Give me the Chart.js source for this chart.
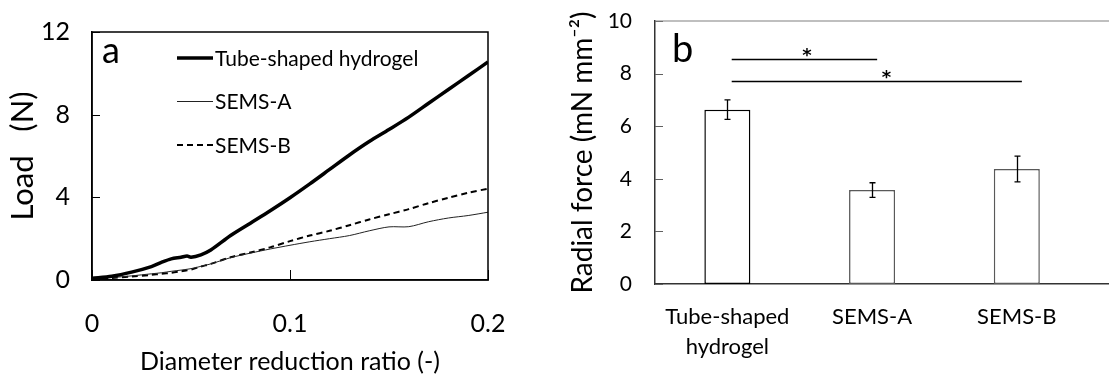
<!DOCTYPE html>
<html><head><meta charset="utf-8">
<script src="https://cdn.jsdelivr.net/npm/chart.js@4.4.1/dist/chart.umd.min.js"></script>
<style>
html,body{margin:0;padding:0;background:#fff;overflow:hidden}
#wrap{position:relative;width:1109px;height:379px}
canvas{position:absolute;top:0}
#a{left:0}
#b{left:560px}
</style></head><body>
<div id="wrap"><canvas id="a" width="560" height="379"></canvas><canvas id="b" width="549" height="379"></canvas></div>
<script>
// ---- Panel a data ----
const ratio = [0, 0.01, 0.02, 0.03, 0.035, 0.04, 0.045, 0.048, 0.05, 0.055, 0.06, 0.07, 0.08, 0.09, 0.1, 0.11, 0.12, 0.13, 0.14, 0.15, 0.16, 0.17, 0.18, 0.19, 0.2];
const loadHydrogel = [0.08, 0.18, 0.38, 0.65, 0.85, 1.02, 1.10, 1.16, 1.10, 1.22, 1.45, 2.15, 2.75, 3.35, 3.98, 4.65, 5.35, 6.05, 6.70, 7.28, 7.88, 8.55, 9.22, 9.88, 10.55];
const loadSemsA = [0.08, 0.12, 0.20, 0.30, 0.35, 0.42, 0.48, 0.52, 0.55, 0.66, 0.78, 1.08, 1.30, 1.50, 1.68, 1.85, 2.00, 2.15, 2.38, 2.57, 2.58, 2.82, 3.00, 3.12, 3.28];
const loadSemsB = [0.05, 0.10, 0.17, 0.25, 0.30, 0.35, 0.42, 0.47, 0.50, 0.65, 0.78, 1.10, 1.33, 1.58, 1.88, 2.15, 2.38, 2.65, 2.93, 3.18, 3.43, 3.72, 3.98, 4.22, 4.42];
const seriesNames = ['Tube-shaped hydrogel', 'SEMS-A', 'SEMS-B'];
const ratioTicks = [0, 0.1, 0.2];
const ratioTickLabels = ['0', '0.1', '0.2'];
const loadTicks = [0, 4, 8, 12];

// ---- Panel b data ----
const categories = [['Tube-shaped', 'hydrogel'], 'SEMS-A', 'SEMS-B'];
const radialForce = [6.63, 3.57, 4.37];
const radialErr = [0.37, 0.28, 0.49];
const forceTicks = [0, 2, 4, 6, 8, 10];
const sigStart = [0.03, 0.03];
const sigEnd = [1.035, 2.035];
const sigLevel = [8.57, 7.71];
const sigStarX = [0.55, 1.10];
const sigLabel = ['*', '*'];

Chart.defaults.font.family = 'Lato, "Open Sans", sans-serif';
Chart.defaults.color = '#000';

const pts = ys => ratio.map((x, i) => ({x, y: ys[i]}));
const noPad = s => { s.paddingTop = 0; s.paddingBottom = 0; s.paddingLeft = 0; s.paddingRight = 0; };

const innerTicks = {
  id: 'innerTicks',
  afterDraw(chart, args, o) {
    const {ctx, chartArea: a, scales} = chart;
    ctx.save();
    ctx.strokeStyle = o.color; ctx.lineWidth = o.width;
    scales.y.ticks.forEach(t => {
      const py = Math.round(scales.y.getPixelForValue(t.value)) + 0.5;
      ctx.beginPath(); ctx.moveTo(a.left, py); ctx.lineTo(a.left + o.len, py); ctx.stroke();
    });
    if (o.xTicks) {
      scales.x.ticks.forEach(t => {
        const px = Math.round(scales.x.getPixelForValue(t.value)) + 0.5;
        ctx.beginPath(); ctx.moveTo(px, a.bottom); ctx.lineTo(px, a.bottom - o.xLen); ctx.stroke();
      });
    }
    ctx.restore();
  }
};

const frame = {
  id: 'frame',
  afterDraw(chart, args, o) {
    const {ctx, chartArea: a} = chart;
    ctx.save();
    ctx.strokeStyle = o.color; ctx.lineWidth = o.width;
    ctx.beginPath();
    if (o.full) {
      ctx.rect(a.left, a.top, a.right - a.left, a.bottom - a.top);
    } else {
      ctx.moveTo(a.left, a.top); ctx.lineTo(chart.width, a.top);
    }
    ctx.stroke();
    ctx.restore();
  }
};

const panelLabel = {
  id: 'panelLabel',
  afterDraw(chart, args, o) {
    const {ctx, chartArea: a} = chart;
    ctx.save();
    ctx.font = o.size + 'px ' + Chart.defaults.font.family;
    ctx.fillStyle = '#000'; ctx.textBaseline = 'alphabetic'; ctx.textAlign = 'left';
    ctx.fillText(o.text, a.left + o.dx, a.top + o.dy);
    ctx.restore();
  }
};

const lineLegend = {
  id: 'lineLegend',
  afterDraw(chart, args, o) {
    const {ctx, chartArea: a} = chart;
    ctx.save();
    ctx.font = o.size + 'px ' + Chart.defaults.font.family;
    chart.data.datasets.forEach((ds, i) => {
      const y = a.top + o.top + i * o.gap;
      const x0 = a.left + o.left;
      ctx.save();
      ctx.strokeStyle = ds.borderColor; ctx.lineWidth = ds.borderWidth;
      ctx.setLineDash(ds.borderDash || []);
      ctx.beginPath(); ctx.moveTo(x0, y); ctx.lineTo(x0 + o.len, y); ctx.stroke();
      ctx.restore();
      ctx.fillStyle = '#000'; ctx.textBaseline = 'middle'; ctx.textAlign = 'left';
      ctx.fillText(ds.label, x0 + o.len + o.pad, y + 1);
    });
    ctx.restore();
  }
};

new Chart(document.getElementById('a'), {
  type: 'line',
  data: {
    datasets: [
      {label: seriesNames[0], data: pts(loadHydrogel), borderColor: '#000', borderWidth: 3.5, pointRadius: 0, tension: 0.3},
      {label: seriesNames[1], data: pts(loadSemsA), borderColor: '#222', borderWidth: 1, pointRadius: 0, tension: 0.3},
      {label: seriesNames[2], data: pts(loadSemsB), borderColor: '#000', borderWidth: 2, borderDash: [6, 4], pointRadius: 0, tension: 0.3}
    ]
  },
  options: {
    responsive: false, animation: false, events: [],
    layout: {padding: {top: 32, right: 72, left: 0, bottom: 0}},
    plugins: {
      legend: {display: false}, tooltip: {enabled: false},
      innerTicks: {color: '#000', width: 1, len: 8, xTicks: true, xLen: 10},
      frame: {color: '#000', width: 1.5, full: true},
      panelLabel: {text: 'a', size: 36, dx: 10, dy: 31},
      lineLegend: {size: 21, left: 85, top: 26, gap: 43.5, len: 36, pad: 2}
    },
    scales: {
      x: {
        type: 'linear', min: 0, max: 0.2,
        afterFit(s) { s.height = 99; noPad(s); },
        afterBuildTicks(s) { s.ticks = ratioTicks.map(v => ({value: v})); },
        grid: {display: false, drawTicks: false},
        border: {display: true, color: '#000', width: 1.5},
        ticks: {padding: 29, font: {size: 25}, color: '#000', maxRotation: 0, callback: (v, i) => ratioTickLabels[i]},
        title: {display: true, text: 'Diameter reduction ratio (-)', font: {size: 25}, color: '#000', padding: {top: 0, bottom: 2}}
      },
      y: {
        type: 'linear', min: 0, max: 12,
        afterFit(s) { s.width = 92; noPad(s); },
        afterBuildTicks(s) { s.ticks = loadTicks.map(v => ({value: v})); },
        grid: {display: false, drawTicks: false},
        border: {display: true, color: '#000', width: 1.5},
        ticks: {padding: 22, font: {size: 25}, color: '#000'},
        title: {display: true, text: 'Load   (N)', font: {size: 31}, color: '#000', padding: {top: 4, bottom: 0}}
      }
    }
  },
  plugins: [innerTicks, frame, panelLabel, lineLegend]
});

const errorBars = {
  id: 'errorBars',
  afterDatasetsDraw(chart, args, o) {
    const {ctx, scales} = chart;
    const meta = chart.getDatasetMeta(0);
    ctx.save();
    ctx.strokeStyle = o.color; ctx.lineWidth = o.width;
    meta.data.forEach((bar, i) => {
      const t = scales.y.getPixelForValue(radialForce[i] + radialErr[i]);
      const b = scales.y.getPixelForValue(radialForce[i] - radialErr[i]);
      const x = Math.round(bar.x) + 0.5;
      ctx.beginPath();
      ctx.moveTo(x, t); ctx.lineTo(x, b);
      ctx.moveTo(x - o.cap, t); ctx.lineTo(x + o.cap, t);
      ctx.moveTo(x - o.cap, b); ctx.lineTo(x + o.cap, b);
      ctx.stroke();
    });
    ctx.restore();
  }
};

const significance = {
  id: 'significance',
  afterDraw(chart, args, o) {
    const {ctx, scales} = chart;
    ctx.save();
    ctx.strokeStyle = '#000'; ctx.lineWidth = o.width;
    ctx.fillStyle = '#000'; ctx.textAlign = 'center'; ctx.textBaseline = 'alphabetic';
    ctx.font = 'bold ' + o.size + 'px "DejaVu Sans", sans-serif';
    sigLevel.forEach((lv, i) => {
      const y = Math.round(scales.y.getPixelForValue(lv)) + 0.5;
      ctx.beginPath();
      ctx.moveTo(scales.x.getPixelForValue(sigStart[i]), y);
      ctx.lineTo(scales.x.getPixelForValue(sigEnd[i]), y);
      ctx.stroke();
      ctx.fillText(sigLabel[i], scales.x.getPixelForValue(sigStarX[i]), y + o.dy);
    });
    ctx.restore();
  }
};

new Chart(document.getElementById('b'), {
  type: 'bar',
  data: {
    datasets: [{
      label: 'Radial force',
      data: radialForce.map((v, i) => ({x: i, y: v})),
      backgroundColor: '#fff',
      borderColor: ['#000', '#595959', '#595959'],
      borderWidth: 1.5,
      borderSkipped: false,
      barPercentage: 0.318,
      categoryPercentage: 1
    }]
  },
  options: {
    responsive: false, animation: false, events: [],
    layout: {padding: {top: 21, right: 0, left: 0, bottom: 0}},
    plugins: {
      legend: {display: false}, tooltip: {enabled: false},
      innerTicks: {color: '#606060', width: 1, len: 8, xTicks: false},
      frame: {color: '#808080', width: 1.2, full: false},
      panelLabel: {text: 'b', size: 38, dx: 17, dy: 41},
      errorBars: {color: '#000', width: 1.3, cap: 3},
      significance: {width: 1.5, size: 18, dy: 1}
    },
    scales: {
      x: {
        type: 'linear', min: -0.5, max: 2.637, offset: false,
        afterFit(s) { s.height = 95; noPad(s); },
        afterBuildTicks(s) { s.ticks = categories.map((c, i) => ({value: i})); },
        grid: {display: false, drawTicks: false},
        border: {display: true, color: '#333', width: 1.5},
        ticks: {padding: 18, font: {size: 22, lineHeight: 1.36}, color: '#000', maxRotation: 0, autoSkip: false, callback: (v, i) => categories[i]}
      },
      y: {
        type: 'linear', min: 0, max: 10,
        afterFit(s) { s.width = 95; noPad(s); },
        afterBuildTicks(s) { s.ticks = forceTicks.map(v => ({value: v})); },
        grid: {display: false, drawTicks: false},
        border: {display: true, color: '#333', width: 1.5},
        ticks: {padding: 23, font: {size: 21}, color: '#000'},
        title: {display: true, text: 'Radial force (mN mm\u207B\u00B2)', font: {size: 28}, color: '#000', padding: {top: 6, bottom: 0}}
      }
    }
  },
  plugins: [innerTicks, frame, panelLabel, errorBars, significance]
});
</script>
</body></html>
